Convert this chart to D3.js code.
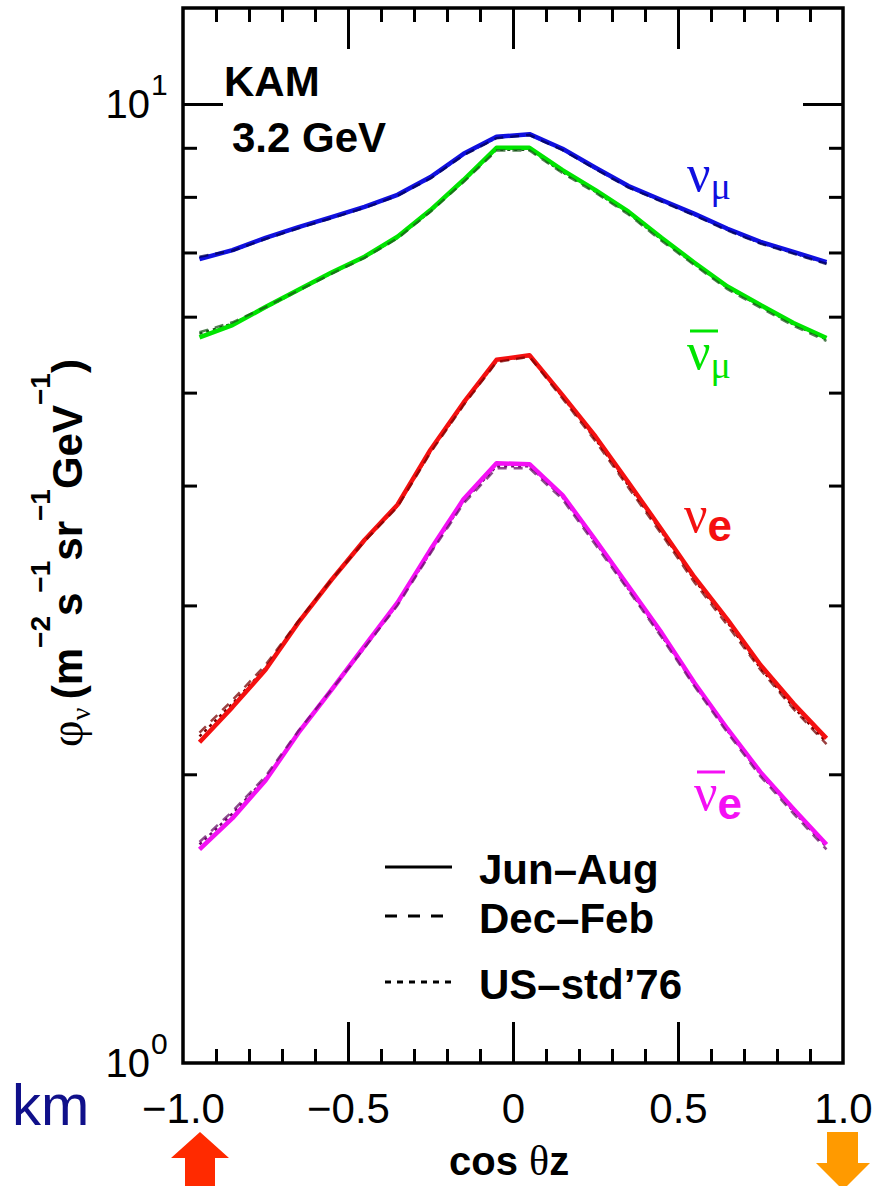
<!DOCTYPE html>
<html>
<head>
<meta charset="utf-8">
<script src="https://cdn.jsdelivr.net/npm/d3@7"></script>
<style>
  body { margin: 0; background: #fff; }
  svg { display: block; font-family: "Liberation Sans", Arial, sans-serif; }
</style>
</head>
<body>
<div id="chart"></div>
<script>
// zenith-angle bin centres (cos theta_z)
const cosBins = [-0.95, -0.85, -0.75, -0.65, -0.55, -0.45, -0.35, -0.25, -0.15, -0.05,
                 0.05, 0.15, 0.25, 0.35, 0.45, 0.55, 0.65, 0.75, 0.85, 0.95];

// flux at 3.2 GeV, Kamioka (m^-2 s^-1 sr^-1 GeV^-1)
const numuJun = [6.89, 7.04, 7.25, 7.44, 7.62, 7.81, 8.04, 8.39, 8.87, 9.24, 9.30, 8.98, 8.58, 8.21, 7.94, 7.68, 7.41, 7.18, 7.01, 6.84];
const numuDec = [6.93, 7.03, 7.23, 7.42, 7.60, 7.79, 8.02, 8.36, 8.84, 9.21, 9.28, 8.95, 8.55, 8.18, 7.91, 7.65, 7.38, 7.15, 6.98, 6.81];
const numuUS  = [6.91, 7.03, 7.24, 7.43, 7.61, 7.80, 8.03, 8.37, 8.85, 9.22, 9.29, 8.96, 8.56, 8.19, 7.92, 7.66, 7.39, 7.16, 6.99, 6.82];

const numubarJun = [5.71, 5.88, 6.14, 6.40, 6.67, 6.93, 7.27, 7.75, 8.33, 9.00, 9.00, 8.53, 8.13, 7.72, 7.25, 6.83, 6.45, 6.17, 5.91, 5.70];
const numubarDec = [5.78, 5.92, 6.14, 6.39, 6.65, 6.91, 7.24, 7.72, 8.29, 8.94, 8.94, 8.47, 8.08, 7.67, 7.20, 6.79, 6.41, 6.13, 5.87, 5.66];
const numubarUS  = [5.76, 5.90, 6.13, 6.39, 6.66, 6.92, 7.25, 7.73, 8.31, 8.96, 8.96, 8.49, 8.10, 7.69, 7.22, 6.81, 6.43, 6.15, 5.89, 5.68];

const nueJun = [2.16, 2.35, 2.57, 2.88, 3.19, 3.51, 3.82, 4.36, 4.88, 5.41, 5.47, 4.97, 4.50, 4.03, 3.60, 3.21, 2.90, 2.60, 2.37, 2.18];
const nueDec = [2.21, 2.39, 2.60, 2.89, 3.19, 3.50, 3.80, 4.33, 4.85, 5.38, 5.45, 4.93, 4.45, 3.98, 3.56, 3.17, 2.86, 2.57, 2.34, 2.15];
const nueUS  = [2.19, 2.37, 2.58, 2.88, 3.19, 3.50, 3.81, 4.34, 4.86, 5.39, 5.46, 4.95, 4.47, 4.00, 3.58, 3.19, 2.88, 2.58, 2.35, 2.16];

const nuebarJun = [1.67, 1.80, 1.97, 2.21, 2.45, 2.72, 3.02, 3.43, 3.87, 4.22, 4.21, 3.91, 3.51, 3.14, 2.81, 2.49, 2.23, 2.01, 1.84, 1.69];
const nuebarDec = [1.70, 1.83, 1.99, 2.22, 2.45, 2.71, 3.00, 3.40, 3.83, 4.17, 4.17, 3.87, 3.47, 3.11, 2.78, 2.47, 2.21, 1.99, 1.82, 1.67];
const nuebarUS  = [1.69, 1.82, 1.98, 2.21, 2.45, 2.71, 3.01, 3.41, 3.85, 4.19, 4.19, 3.89, 3.49, 3.12, 2.79, 2.48, 2.22, 2.00, 1.83, 1.68];

// axis ticks
const xMajorTicks = [-0.5, 0, 0.5];
const xMinorTicks = [-0.9, -0.8, -0.7, -0.6, -0.4, -0.3, -0.2, -0.1, 0.1, 0.2, 0.3, 0.4, 0.6, 0.7, 0.8, 0.9];
const xTickLabels = [-1, -0.5, 0, 0.5, 1];
const xTickText = ["\u22121.0", "\u22120.5", "0", "0.5", "1.0"];
const yMajorTicks = [10];
const yMinorTicks = [2, 3, 4, 5, 6, 7, 8, 9];
const yTickLabels = [1, 10];
const yTickExp = ["0", "1"];

const legendNames = ["Jun\u2013Aug", "Dec\u2013Feb", "US\u2013std\u201976"];

class FluxVis {
    constructor(parentElement) {
        this.parentElement = parentElement;
        this.initVis();
    }

    initVis() {
        let vis = this;
        vis.width = 890;
        vis.height = 1186;
        vis.frame = {left: 183, right: 843, top: 8, bottom: 1063};

        vis.svg = d3.select("#" + vis.parentElement).append("svg")
            .attr("width", vis.width)
            .attr("height", vis.height);

        vis.x = d3.scaleLinear().domain([-1, 1]).range([vis.frame.left, vis.frame.right]);
        vis.y = d3.scaleLog().domain([1, Math.pow(10, 1.1)]).range([vis.frame.bottom, vis.frame.top]);

        vis.line = d3.line()
            .x((d, i) => vis.x(cosBins[i]))
            .y(d => vis.y(d));

        vis.series = [
            {color: "#1010e0", dark: "#000050", jun: numuJun, dec: numuDec, us: numuUS},
            {color: "#00e400", dark: "#1a561a", jun: numubarJun, dec: numubarDec, us: numubarUS},
            {color: "#f41010", dark: "#780000", jun: nueJun, dec: nueDec, us: nueUS},
            {color: "#f410f4", dark: "#661066", jun: nuebarJun, dec: nuebarDec, us: nuebarUS}
        ];

        vis.drawAxes();
        vis.updateVis();
        vis.drawLabels();
    }

    drawAxes() {
        let vis = this;
        const f = vis.frame;
        const tickStyle = g => {
            g.select(".domain").remove();
            g.selectAll(".tick line").attr("stroke", "#000").attr("stroke-width", 3);
        };

        // bottom & top
        vis.svg.append("g").attr("transform", `translate(0,${f.bottom})`)
            .call(d3.axisBottom(vis.x).tickValues(xMinorTicks).tickSize(-14).tickFormat("")).call(tickStyle);
        vis.svg.append("g").attr("transform", `translate(0,${f.bottom})`)
            .call(d3.axisBottom(vis.x).tickValues(xMajorTicks).tickSize(-41).tickFormat("")).call(tickStyle);
        vis.svg.append("g").attr("transform", `translate(0,${f.top})`)
            .call(d3.axisTop(vis.x).tickValues(xMinorTicks).tickSize(-14).tickFormat("")).call(tickStyle);
        vis.svg.append("g").attr("transform", `translate(0,${f.top})`)
            .call(d3.axisTop(vis.x).tickValues(xMajorTicks).tickSize(-41).tickFormat("")).call(tickStyle);

        // left & right
        vis.svg.append("g").attr("transform", `translate(${f.left},0)`)
            .call(d3.axisLeft(vis.y).tickValues(yMinorTicks).tickSize(-14).tickFormat("")).call(tickStyle);
        vis.svg.append("g").attr("transform", `translate(${f.left},0)`)
            .call(d3.axisLeft(vis.y).tickValues(yMajorTicks).tickSize(-40).tickFormat("")).call(tickStyle);
        vis.svg.append("g").attr("transform", `translate(${f.right},0)`)
            .call(d3.axisRight(vis.y).tickValues(yMinorTicks).tickSize(-14).tickFormat("")).call(tickStyle);
        vis.svg.append("g").attr("transform", `translate(${f.right},0)`)
            .call(d3.axisRight(vis.y).tickValues(yMajorTicks).tickSize(-40).tickFormat("")).call(tickStyle);

        // frame
        vis.svg.append("rect")
            .attr("x", f.left).attr("y", f.top)
            .attr("width", f.right - f.left).attr("height", f.bottom - f.top)
            .attr("fill", "none").attr("stroke", "#000").attr("stroke-width", 3.5);

        // x tick labels
        const xl = vis.svg.append("g").attr("transform", `translate(0,${f.bottom})`)
            .call(d3.axisBottom(vis.x).tickValues(xTickLabels).tickSize(0).tickPadding(30)
                .tickFormat((d, i) => xTickText[i]));
        xl.select(".domain").remove();
        xl.selectAll("text").attr("font-size", 42).attr("font-family", "Liberation Sans, Arial, sans-serif")
            .attr("fill", "#000");

        // y tick labels (10^n)
        yTickLabels.forEach((v, i) => {
            const yy = vis.y(v);
            vis.svg.append("text")
                .attr("x", 150).attr("y", yy + 14)
                .attr("text-anchor", "end").attr("font-size", 40)
                .text("10");
            vis.svg.append("text")
                .attr("x", 151).attr("y", yy - 9)
                .attr("font-size", 30)
                .text(yTickExp[i]);
        });
    }

    updateVis() {
        let vis = this;
        const g = vis.svg.append("g");

        g.selectAll(".dotted").data(vis.series).enter().append("path")
            .attr("class", "dotted")
            .attr("d", d => vis.line(d.us))
            .attr("fill", "none").attr("stroke", d => d.dark)
            .attr("stroke-width", 2.5).attr("stroke-dasharray", "3,4");

        g.selectAll(".solid").data(vis.series).enter().append("path")
            .attr("class", "solid")
            .attr("d", d => vis.line(d.jun))
            .attr("fill", "none").attr("stroke", d => d.color)
            .attr("stroke-width", 4.5).attr("stroke-linejoin", "round");

        g.selectAll(".dashed").data(vis.series).enter().append("path")
            .attr("class", "dashed")
            .attr("d", d => vis.line(d.dec))
            .attr("fill", "none").attr("stroke", d => d.dark)
            .attr("stroke-width", 2.5).attr("stroke-dasharray", "9,7").attr("opacity", 0.75);
    }

    drawLabels() {
        let vis = this;
        const serif = "Liberation Serif, Times New Roman, serif";

        vis.svg.append("text").attr("x", 224).attr("y", 96)
            .attr("font-size", 42).attr("font-weight", "bold").text("KAM");
        vis.svg.append("text").attr("x", 232).attr("y", 152)
            .attr("font-size", 42).attr("font-weight", "bold").text("3.2 GeV");

        // flavour labels
        const flav = [
            {x: 687, y: 191, sub: "\u03bc", subBold: false, subY: 199, bar: false, color: "#1010e0"},
            {x: 687, y: 369, sub: "\u03bc", subBold: false, subY: 378, bar: true, color: "#00e400"},
            {x: 684, y: 532, sub: "e", subBold: true, subY: 541, bar: false, color: "#f41010"},
            {x: 694, y: 810, sub: "e", subBold: true, subY: 819, bar: true, color: "#f410f4"}
        ];
        flav.forEach(d => {
            const t = vis.svg.append("text").attr("x", d.x).attr("y", d.y).attr("fill", d.color);
            t.append("tspan").attr("font-family", serif).attr("font-size", 52).text("\u03bd");
            const s = t.append("tspan").attr("dy", d.subY - d.y);
            if (d.subBold) s.attr("font-size", 44).attr("font-weight", "bold").text(d.sub);
            else s.attr("font-family", serif).attr("font-size", 38).text(d.sub);
            if (d.bar) {
                vis.svg.append("line")
                    .attr("x1", d.x + 3).attr("x2", d.x + 31)
                    .attr("y1", d.y - 38).attr("y2", d.y - 38)
                    .attr("stroke", d.color).attr("stroke-width", 3);
            }
        });

        // legend
        const legY = [867, 916, 982];
        const dashes = [null, "12,11", "6,6"];
        legendNames.forEach((n, i) => {
            vis.svg.append("line")
                .attr("x1", 385).attr("x2", 452).attr("y1", legY[i]).attr("y2", legY[i])
                .attr("stroke", "#000").attr("stroke-width", 3)
                .attr("stroke-dasharray", dashes[i]);
            vis.svg.append("text").attr("x", 479).attr("y", legY[i] + 17)
                .attr("font-size", 42).attr("font-weight", "bold").text(n);
        });

        // y axis title
        const yt = vis.svg.append("text")
            .attr("transform", "translate(82,553) rotate(-90)")
            .attr("text-anchor", "middle")
            .attr("font-size", 42).attr("font-weight", "bold");
        yt.append("tspan").attr("font-family", serif).attr("font-weight", "normal")
            .attr("font-size", 46).text("\u03c6");
        yt.append("tspan").attr("font-family", serif).attr("font-weight", "normal")
            .attr("font-size", 28).attr("dy", 8).text("\u03bd");
        const parts = [["\u2009(m", 0], ["\u22122", 1], ["s", 0], ["\u22121", 1], ["sr", 0], ["\u22121", 1],
                       ["GeV", 0], ["\u22121", 1], [")", 0]];
        let prev = 8;
        parts.forEach(([txt, sup]) => {
            const cur = sup ? -32 : 0;
            const tsp = yt.append("tspan").attr("dy", cur - prev).text(txt);
            if (sup) tsp.attr("font-size", 28);
            prev = cur;
        });

        // x axis title
        const xt = vis.svg.append("text").attr("x", 449).attr("y", 1175)
            .attr("font-size", 40).attr("font-weight", "bold");
        xt.append("tspan").text("cos ");
        xt.append("tspan").attr("font-family", serif).attr("font-weight", "normal").attr("font-size", 42).text("\u03b8");
        xt.append("tspan").text("z");

        vis.svg.append("text").attr("x", 12).attr("y", 1125)
            .attr("font-size", 58).attr("fill", "#10108a").text("km");

        // direction arrows
        vis.svg.append("path")
            .attr("d", "M200,1132 L229,1158 L215,1158 L215,1190 L185,1190 L185,1158 L171,1158 Z")
            .attr("fill", "#ff2a00");
        vis.svg.append("path")
            .attr("d", "M827,1132 L858,1132 L858,1163 L870,1163 L843,1190 L816,1163 L827,1163 Z")
            .attr("fill", "#ff9a00");
    }
}

new FluxVis("chart");
</script>
</body>
</html>
